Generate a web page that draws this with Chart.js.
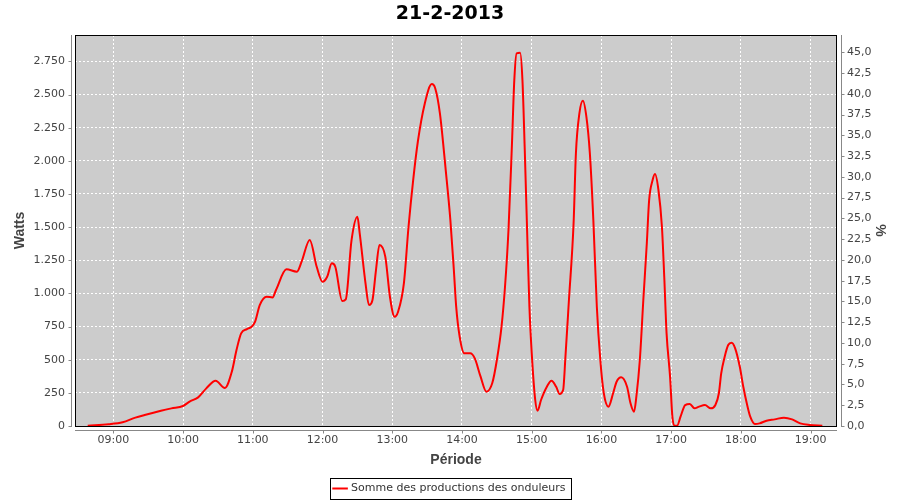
<!DOCTYPE html>
<html>
<head>
<meta charset="utf-8">
<script src="https://cdn.jsdelivr.net/npm/chart.js@4"></script>
<style>
  html, body { margin: 0; padding: 0; background: #ffffff; }
  #wrap { width: 900px; height: 500px; }
</style>
</head>
<body>
<div id="wrap"><canvas id="chart"></canvas></div>
<script>
const times = [
    '08:38', '08:56', '09:08', '09:19', '09:27', '09:41', '09:50', '10:00', '10:06', '10:13',
    '10:20', '10:28', '10:36', '10:42', '10:46', '10:50', '10:55', '10:59', '11:02', '11:06',
    '11:12', '11:17', '11:20', '11:29', '11:38', '11:42', '11:49', '11:55', '12:00', '12:04',
    '12:08', '12:11', '12:17', '12:20', '12:25', '12:30', '12:32', '12:37', '12:40', '12:43',
    '12:46', '12:49', '12:54', '12:58', '13:02', '13:05', '13:10', '13:14', '13:18', '13:22',
    '13:28', '13:34', '13:37', '13:41', '13:46', '13:50', '13:53', '13:55', '13:58', '14:02',
    '14:07', '14:11', '14:16', '14:21', '14:26', '14:30', '14:34', '14:37', '14:40', '14:43',
    '14:45', '14:47', '14:50', '14:52', '14:54', '14:56', '14:58', '15:00', '15:03', '15:05',
    '15:08', '15:13', '15:17', '15:21', '15:24', '15:27', '15:29', '15:32', '15:36', '15:38',
    '15:41', '15:44', '15:47', '15:50', '15:53', '15:56', '15:59', '16:02', '16:06', '16:10',
    '16:13', '16:17', '16:22', '16:25', '16:28', '16:30', '16:33', '16:36', '16:39', '16:41',
    '16:44', '16:46', '16:49', '16:52', '16:54', '16:56', '16:59', '17:01', '17:03', '17:05',
    '17:08', '17:12', '17:16', '17:20', '17:24', '17:29', '17:34', '17:38', '17:41', '17:43',
    '17:46', '17:49', '17:52', '17:55', '17:59', '18:02', '18:05', '18:08', '18:12', '18:16',
    '18:22', '18:29', '18:37', '18:44', '18:51', '18:59', '19:10'
];
const watts = [
    2, 13, 28, 63, 83, 115, 133, 151, 186, 216,
    284, 342, 287, 410, 573, 699, 731, 749, 787, 912,
    975, 970, 1026, 1182, 1164, 1239, 1403, 1201, 1088, 1126,
    1227, 1201, 943, 955, 1403, 1578, 1453, 1076, 912, 950,
    1176, 1365, 1277, 975, 824, 862, 1076, 1503, 1855, 2144,
    2433, 2579, 2546, 2358, 1930, 1553, 1176, 900, 673, 548,
    548, 510, 372, 259, 322, 498, 749, 1050, 1478, 2132,
    2609, 2811, 2815, 2609, 2081, 1478, 900, 548, 196, 115,
    196, 296, 342, 296, 241, 271, 523, 950, 1529, 2056,
    2358, 2453, 2333, 2056, 1553, 900, 498, 247, 146, 247,
    334, 367, 296, 171, 108, 221, 498, 950, 1378, 1704,
    1855, 1900, 1780, 1503, 1126, 699, 372, 70, 2, 2,
    70, 158, 166, 133, 146, 158, 133, 158, 247, 397,
    523, 611, 628, 586, 447, 296, 171, 70, 15, 20,
    40, 50, 63, 50, 20, 8, 2
];
const hourTicks = [9, 10, 11, 12, 13, 14, 15, 16, 17, 18, 19];
const wattTicks = [0, 250, 500, 750, 1000, 1250, 1500, 1750, 2000, 2250, 2500, 2750];
const percentTicks = [0, 2.5, 5, 7.5, 10, 12.5, 15, 17.5, 20, 22.5, 25, 27.5, 30, 32.5, 35, 37.5, 40, 42.5, 45];

function toHours(s) {
    const p = s.split(':');
    return Number(p[0]) + Number(p[1]) / 60;
}
function pad2(n) { return (n < 10 ? '0' : '') + n; }

const points = times.map((t, i) => ({ x: toHours(t), y: watts[i] }));

const axisFont = { family: 'DejaVu Sans', size: 11 };
const titleFont = { family: 'Liberation Sans', size: 14, weight: 'bold' };

// grey plot background, black frame, offset axis lines, legend frame
const plotFrame = {
    id: 'plotFrame',
    beforeDraw(chart) {
        const { ctx, chartArea: a } = chart;
        ctx.save();
        ctx.fillStyle = '#cccccc';
        ctx.fillRect(a.left, a.top, a.right - a.left, a.bottom - a.top);
        ctx.restore();
    },
    beforeDatasetsDraw(chart) {
        const { ctx, chartArea: a } = chart;
        ctx.save();
        ctx.strokeStyle = '#000000';
        ctx.lineWidth = 1;
        ctx.strokeRect(a.left + 0.5, a.top + 0.5, a.right - a.left - 1, a.bottom - a.top);
        ctx.restore();
    },
    afterDraw(chart) {
        const { ctx, chartArea: a, scales } = chart;
        ctx.save();
        ctx.strokeStyle = '#888888';
        ctx.lineWidth = 1;
        const lx = a.left - 3.5, rx = a.right + 4.5, by = a.bottom + 4.5;
        ctx.beginPath();
        ctx.moveTo(lx, a.top); ctx.lineTo(lx, a.bottom + 1);
        ctx.moveTo(rx, a.top); ctx.lineTo(rx, a.bottom + 1);
        ctx.moveTo(a.left, by); ctx.lineTo(a.right, by);
        scales.y.ticks.forEach(t => {
            const y = Math.round(scales.y.getPixelForValue(t.value)) + 0.5;
            ctx.moveTo(lx - 3, y); ctx.lineTo(lx, y);
        });
        scales.y1.ticks.forEach(t => {
            const y = Math.round(scales.y1.getPixelForValue(t.value)) + 0.5;
            ctx.moveTo(rx, y); ctx.lineTo(rx + 3, y);
        });
        scales.x.ticks.forEach(t => {
            const x = Math.round(scales.x.getPixelForValue(t.value)) + 0.5;
            ctx.moveTo(x, by); ctx.lineTo(x, by + 3);
        });
        ctx.stroke();

        const hb = chart.legend.legendHitBoxes[0];
        if (hb) {
            const cy = hb.top + hb.height / 2;
            ctx.strokeStyle = '#000000';
            ctx.strokeRect(Math.round(hb.left - 5) + 0.5, Math.round(cy - 11) + 0.5,
                Math.round(hb.width + 10), 21);
        }
        ctx.restore();
    }
};

new Chart(document.getElementById('chart'), {
    type: 'line',
    data: {
        datasets: [{
            label: 'Somme des productions des onduleurs',
            data: points,
            yAxisID: 'y',
            borderColor: '#ff0000',
            backgroundColor: '#ff0000',
            borderWidth: 2,
            pointRadius: 0,
            cubicInterpolationMode: 'monotone',
            fill: false
        }]
    },
    options: {
        responsive: true,
        maintainAspectRatio: false,
        animation: false,
        layout: { padding: { top: 0, left: 0, right: 0, bottom: -4 } },
        plugins: {
            title: {
                display: true,
                text: '21-2-2013',
                color: '#000000',
                font: { family: 'DejaVu Sans', size: 19, weight: 'bold' },
                padding: { top: 3, bottom: 9.2 }
            },
            legend: {
                position: 'bottom',
                labels: {
                    usePointStyle: true,
                    pointStyle: 'line',
                    boxWidth: 11,
                    padding: 0,
                    color: '#333333',
                    font: { family: 'DejaVu Sans', size: 11 }
                }
            },
            tooltip: { enabled: false }
        },
        scales: {
            x: {
                type: 'linear',
                min: 8.451,
                max: 19.377,
                afterBuildTicks: s => { s.ticks = hourTicks.map(v => ({ value: v })); },
                afterFit: s => { s.height = 57; },
                grid: { color: '#ffffff', drawTicks: false },
                border: { display: false, dash: [2, 2] },
                ticks: {
                    padding: 8,
                    color: '#444444',
                    font: axisFont,
                    maxRotation: 0,
                    autoSkip: false,
                    callback: v => pad2(v) + ':00'
                },
                title: {
                    display: true,
                    text: 'Période',
                    color: '#444444',
                    font: titleFont,
                    padding: { top: 0, bottom: 14.6 }
                }
            },
            y: {
                position: 'left',
                min: 0,
                max: 2949,
                afterBuildTicks: s => { s.ticks = wattTicks.map(v => ({ value: v })); },
                afterFit: s => { s.width = 75; },
                grid: { color: '#ffffff', drawTicks: false },
                border: { display: false, dash: [2, 2] },
                ticks: {
                    padding: 10,
                    color: '#444444',
                    font: axisFont,
                    callback: v => v.toLocaleString('de-DE')
                },
                title: {
                    display: true,
                    text: 'Watts',
                    color: '#444444',
                    font: titleFont,
                    padding: { top: 11.8, bottom: 0 }
                }
            },
            y1: {
                position: 'right',
                min: 0,
                max: 47.08,
                afterBuildTicks: s => { s.ticks = percentTicks.map(v => ({ value: v })); },
                afterFit: s => { s.width = 63; },
                grid: { drawOnChartArea: false, drawTicks: false },
                border: { display: false },
                ticks: {
                    padding: 10,
                    color: '#444444',
                    font: axisFont,
                    callback: v => v.toFixed(1).replace('.', ',')
                },
                title: {
                    display: true,
                    text: '%',
                    color: '#444444',
                    font: titleFont,
                    padding: { top: 11.6, bottom: 0 }
                }
            }
        }
    },
    plugins: [plotFrame]
});
</script>
</body>
</html>
